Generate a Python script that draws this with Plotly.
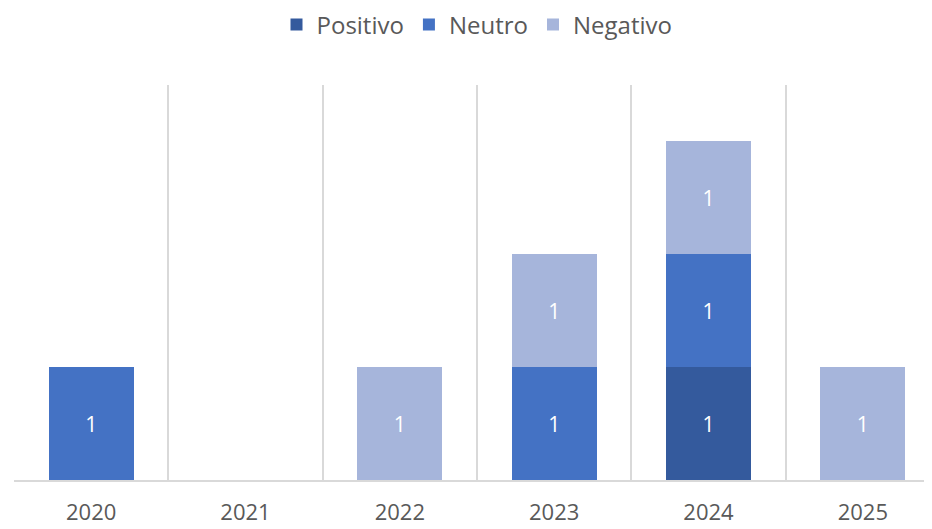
import plotly.graph_objects as go

years = ["2020", "2021", "2022", "2023", "2024", "2025"]
positivo = [0, 0, 0, 0, 1, 0]
neutro = [1, 0, 0, 1, 1, 0]
negativo = [0, 0, 1, 1, 1, 1]

series = [
    ("Positivo", positivo, "#345A9D"),
    ("Neutro", neutro, "#4472C4"),
    ("Negativo", negativo, "#A6B5DB"),
]

xpos = list(range(len(years)))
fig = go.Figure()
for name, vals, color in series:
    fig.add_trace(go.Bar(
        x=xpos, y=[v if v else None for v in vals], name=name,
        marker=dict(color=color, line=dict(width=0)),
        text=[str(v) if v else "" for v in vals],
        textposition="inside", insidetextanchor="middle",
        textfont=dict(color="white", size=21, family="Open Sans"),
        width=0.55,
    ))

fig.update_layout(
    barmode="stack",
    width=932, height=529,
    margin=dict(l=6, r=0, t=77, b=57),
    paper_bgcolor="white", plot_bgcolor="white",
    font=dict(family="Open Sans", color="#595959", size=22),
    legend=dict(orientation="h", x=0.5, xanchor="center", y=0.968, yref="container",
                yanchor="middle", font=dict(size=24, color="#595959"),
                itemwidth=30, traceorder="normal", tracegroupgap=0),
    showlegend=True,
    uniformtext=dict(minsize=10, mode="show"),
)
fig.update_xaxes(
    range=[-0.5, 5.5], tickvals=xpos, ticktext=years, showgrid=False,
    showline=True, linecolor="#D9D9D9", linewidth=2, zeroline=False,
    tickfont=dict(size=22, color="#595959"), ticks="", ticklabelstandoff=12,
    minor=dict(tick0=-0.5, dtick=1, showgrid=True, gridcolor="#D9D9D9", gridwidth=2, ticks=""),
)
fig.update_yaxes(range=[0, 3.5], showgrid=False, showticklabels=False, zeroline=False, showline=False)

fig.write_html("out.html")
